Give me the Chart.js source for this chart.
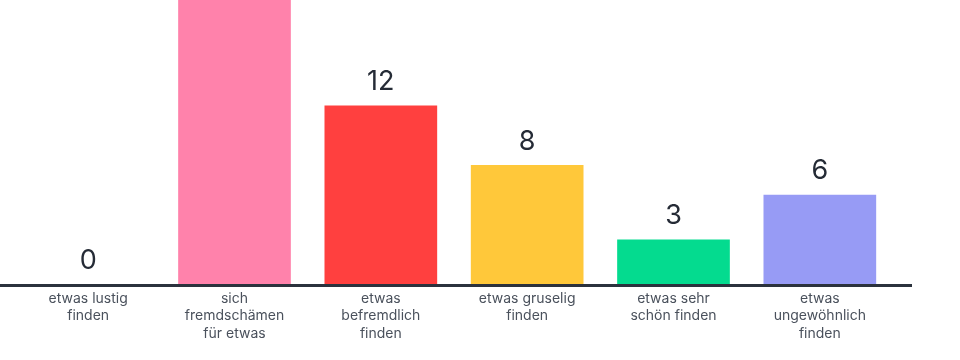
<!DOCTYPE html>
<html>
<head>
<meta charset="utf-8">
<script src="https://cdn.jsdelivr.net/npm/chart.js@4"></script>
<style>
  html, body { margin: 0; padding: 0; background: #fff; }
  #wrap { width: 960px; height: 360px; }
</style>
</head>
<body>
<div id="wrap"><canvas id="chart" width="960" height="360"></canvas></div>
<script>
const categories = [
    ['etwas lustig', 'finden'],
    ['sich', 'fremdschämen', 'für etwas'],
    ['etwas', 'befremdlich', 'finden'],
    ['etwas gruselig', 'finden'],
    ['etwas sehr', 'schön finden'],
    ['etwas', 'ungewöhnlich', 'finden']
];
const answers = [0, 22, 12, 8, 3, 6];
const barColors = ['#ff82ab', '#ff82ab', '#ff403f', '#ffc83a', '#04db8f', '#979bf5'];
const yMin = 0;
const yMax = 19.1;

// line under the bars, runs a bit past the plot on both sides
const axisLine = {
    id: 'axisLine',
    afterDraw(chart) {
        const ctx = chart.ctx;
        const y = chart.chartArea.bottom + 1.5;
        ctx.save();
        ctx.strokeStyle = '#2b323d';
        ctx.lineWidth = 3;
        ctx.beginPath();
        ctx.moveTo(0, y);
        ctx.lineTo(912, y);
        ctx.stroke();
        ctx.restore();
    }
};

// numbers above the bars (skip the ones that run off the top)
const valueLabels = {
    id: 'valueLabels',
    afterDatasetsDraw(chart) {
        const ctx = chart.ctx;
        const meta = chart.getDatasetMeta(0);
        ctx.save();
        ctx.font = '27px Inter, "Noto Sans", sans-serif';
        ctx.fillStyle = '#252b36';
        ctx.textAlign = 'center';
        ctx.textBaseline = 'bottom';
        meta.data.forEach((bar, i) => {
            const y = bar.y - 10;
            if (y - 25 < chart.chartArea.top) return;
            ctx.fillText(String(answers[i]), bar.x, y);
        });
        ctx.restore();
    }
};

new Chart(document.getElementById('chart'), {
    type: 'bar',
    data: {
        labels: categories,
        datasets: [{
            data: answers,
            backgroundColor: barColors,
            borderWidth: 0,
            barPercentage: 0.77,
            categoryPercentage: 1
        }]
    },
    options: {
        responsive: false,
        animation: false,
        layout: { padding: { left: 15, right: 67, top: 0, bottom: 0 } },
        plugins: {
            legend: { display: false },
            tooltip: { enabled: false }
        },
        scales: {
            x: {
                grid: { display: false, drawTicks: false },
                border: { display: false },
                afterFit: scale => { scale.height = 76; },
                ticks: {
                    padding: 6,
                    color: '#4a515c',
                    font: { family: 'Inter, "Noto Sans", sans-serif', size: 14, lineHeight: 1.25 },
                    maxRotation: 0,
                    autoSkip: false
                }
            },
            y: {
                display: false,
                min: yMin,
                max: yMax
            }
        }
    },
    plugins: [axisLine, valueLabels]
});
</script>
</body>
</html>
